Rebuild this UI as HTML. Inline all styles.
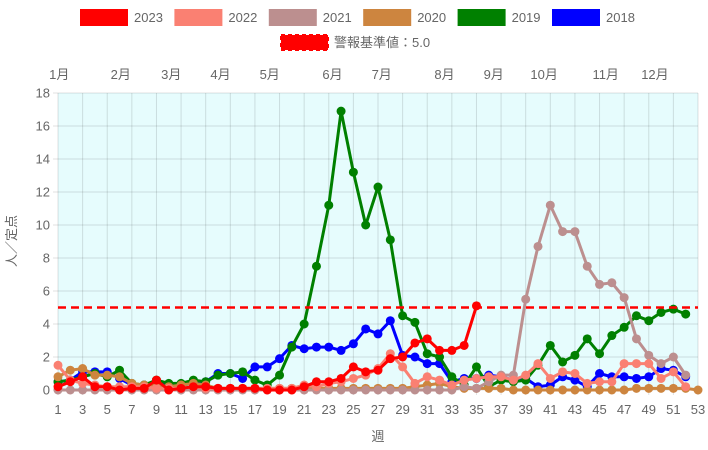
<!DOCTYPE html>
<html><head><meta charset="utf-8">
<style>
html,body{margin:0;padding:0;background:#fff;}
svg{display:block;font-family:"Liberation Sans","Noto Sans CJK JP",sans-serif;}
</style></head>
<body>
<svg id="chart" width="708" height="450" xmlns="http://www.w3.org/2000/svg">
<rect x="58" y="93" width="640" height="297" fill="#e6fcfd"/>
<g id="grid"></g>
<g id="legend"></g>
<g id="series"></g>
<text transform="translate(16,241) rotate(-90)" text-anchor="middle" font-size="13" fill="#666">人／定点</text>
<text x="378" y="441" text-anchor="middle" font-size="13" fill="#666">週</text>
</svg>
<script>
const years = ["2023","2022","2021","2020","2019","2018"];
const colors = ["#ff0000","#fa8072","#bc8f8f","#cd853f","#008000","#0000ff"];
const s2023 = [0.2,0.5,0.8,0.2,0.2,0.0,0.1,0.1,0.6,0.0,0.1,0.2,0.2,0.1,0.1,0.1,0.1,0.0,0.0,0.0,0.2,0.5,0.5,0.7,1.4,1.1,1.2,1.9,2.0,2.85,3.1,2.4,2.4,2.7,5.1];
const s2022 = [1.5,0.6,0.4,0.3,0.2,0.2,0.2,0.2,0.1,0.1,0.1,0.2,0.1,0.1,0.1,0.1,0.1,0.1,0.1,0.1,0.3,0.2,0.4,0.5,0.7,0.9,1.3,2.2,1.4,0.4,0.8,0.6,0.3,0.6,0.7,0.8,0.8,0.6,0.9,1.6,0.7,1.1,1.0,0.4,0.5,0.5,1.6,1.6,1.6,0.7,1.1,0.2];
const s2021 = [0,0,0,0,0,0,0,0,0,0,0,0,0,0,0,0,0,0,0,0,0,0,0,0,0,0,0,0,0,0,0,0,0,0.2,0.1,0.5,0.9,0.9,5.5,8.7,11.2,9.6,9.6,7.5,6.4,6.5,5.6,3.1,2.1,1.6,2.0,0.9];
const s2020 = [0.8,1.2,1.3,0.9,0.9,0.8,0.4,0.3,0.3,0.2,0.3,0.4,0.3,0.1,0.1,0.1,0.1,0.1,0.1,0.1,0.1,0.1,0.1,0.1,0.1,0.1,0.1,0.1,0.1,0.2,0.3,0.4,0.2,0.1,0.1,0.1,0.1,0.0,0.0,0.0,0.0,0.0,0.0,0.0,0.0,0.0,0.0,0.1,0.1,0.1,0.1,0.1,0.0];
const s2019 = [0.5,0.6,0.8,1.0,0.8,1.2,0.4,0.3,0.6,0.4,0.4,0.6,0.5,0.9,1.0,1.1,0.6,0.3,0.9,2.6,4.0,7.5,11.2,16.9,13.2,10.0,12.3,9.1,4.5,4.1,2.2,2.0,0.8,0.3,1.4,0.2,0.6,0.5,0.6,1.5,2.7,1.7,2.1,3.1,2.2,3.3,3.8,4.5,4.2,4.7,4.9,4.6];
const s2018 = [0.5,0.6,1.1,1.1,1.1,0.7,0.3,0.3,0.5,0.3,0.3,0.4,0.5,1.0,1.0,0.7,1.4,1.4,1.9,2.7,2.5,2.6,2.6,2.4,2.8,3.7,3.4,4.2,2.1,2.0,1.6,1.6,0.5,0.7,0.7,0.9,0.8,0.6,0.7,0.2,0.3,0.8,0.6,0.2,1.0,0.8,0.8,0.7,0.8,1.3,1.2,0.8];
const seriesData = [s2023,s2022,s2021,s2020,s2019,s2018];
const threshold = 5.0;
const yTicks = [0,2,4,6,8,10,12,14,16,18];
const xTicks = [1,3,5,7,9,11,13,15,17,19,21,23,25,27,29,31,33,35,37,39,41,43,45,47,49,51,53];
const monthLabels = ["1月","2月","3月","4月","5月","6月","7月","8月","9月","10月","11月","12月"];
const monthWeeks = [1.1,6.1,10.2,14.2,18.2,23.3,27.3,32.4,36.4,40.5,45.5,49.5];

const X0=58,X1=698,Y0=390,Y1=93;
function xs(w){return X0+(w-1)*(X1-X0)/52;}
function ys(v){return Y0-v*(Y0-Y1)/18;}
const NS="http://www.w3.org/2000/svg";
function mk(tag,attrs,parent){const e=document.createElementNS(NS,tag);for(const k in attrs)e.setAttribute(k,attrs[k]);parent.appendChild(e);return e;}
const grid=document.getElementById('grid');
yTicks.forEach(t=>{
  const l=mk('line',{x1:X0-5,x2:X1,y1:ys(t),y2:ys(t),stroke:"rgba(0,0,0,0.12)","stroke-width":1},grid);
  
  
  const tx=mk('text',{x:X0-8,y:ys(t)+4.5,"text-anchor":"end","font-size":13,fill:"#666"},grid);
  tx.textContent=t;
  
  
});
xTicks.forEach(t=>{
  const l=mk('line',{x1:xs(t),x2:xs(t),y1:Y1,y2:Y0+5,stroke:"rgba(0,0,0,0.12)","stroke-width":1},grid);
  
  
  const tx=mk('text',{x:xs(t),y:Y0+24,"text-anchor":"middle","font-size":13,fill:"#666"},grid);
  tx.textContent=t;
  
  
});
monthLabels.forEach((m,i)=>{
  const tx=mk('text',{x:xs(monthWeeks[i]),y:79,"text-anchor":"middle","font-size":13,fill:"#666"},grid);
  tx.textContent=m;
  
  
});
const lg=document.getElementById('legend');
years.forEach((y,i)=>{
  const bx=80+i*94.4;
  const r=mk('rect',{x:bx,y:9,width:48,height:17,fill:colors[i]},lg);
  
  
  const tx=mk('text',{x:bx+54,y:22,"font-size":13,fill:"#666"},lg);
  tx.textContent=y;
  
  
});
const ds=mk('rect',{x:281,y:35,width:47,height:15,fill:"#ff0000",stroke:"#ff0000","stroke-width":2,"stroke-dasharray":"4 3"},lg);


const dt=mk('text',{x:334,y:47,"font-size":13,fill:"#666"},lg);
dt.textContent="警報基準値：5.0";


const sg=document.getElementById('series');
for(let i=seriesData.length-1;i>=0;i--){
  const d=seriesData[i];
  const g=mk('g',{},sg);
  
  
  const pts=d.map((v,j)=>xs(j+1).toFixed(1)+","+ys(v).toFixed(1)).join(" ");
  const pl=mk('polyline',{points:pts,fill:"none",stroke:colors[i],"stroke-width":3,"stroke-linejoin":"round"},g);
  
  
  d.forEach((v,j)=>{
    const c=mk('circle',{cx:xs(j+1),cy:ys(v),r:4.5,fill:colors[i]},g);
    
    
  });
}
const th=mk('line',{x1:X0,x2:X1,y1:ys(threshold),y2:ys(threshold),stroke:"#ff0000","stroke-width":2.5,"stroke-dasharray":"8 5"},sg);


</script>
</body></html>
